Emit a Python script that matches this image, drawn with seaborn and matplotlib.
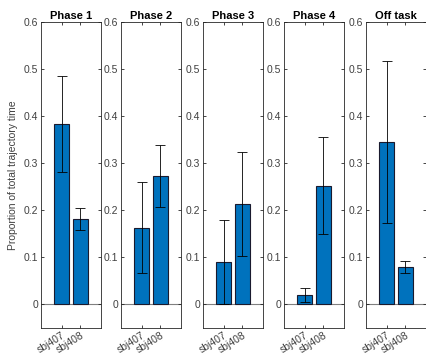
import matplotlib
matplotlib.use("Agg")
import matplotlib.pyplot as plt
import seaborn as sns
import pandas as pd

phases = ["Phase 1", "Phase 2", "Phase 3", "Phase 4", "Off task"]
subjects = ["sbj407", "sbj408"]
sbj407_vals = [0.383, 0.162, 0.089, 0.019, 0.345]
sbj408_vals = [0.181, 0.272, 0.213, 0.252, 0.079]
sbj407_err = [0.103, 0.097, 0.089, 0.015, 0.172]
sbj408_err = [0.023, 0.066, 0.110, 0.103, 0.012]
yticks = [0, 0.1, 0.2, 0.3, 0.4, 0.5, 0.6]

sns.set_style("white")
plt.rcParams['font.family'] = ['Liberation Sans', 'DejaVu Sans']

fig = plt.figure(figsize=(4.27, 3.59), dpi=100)
lefts = [41, 121, 203, 284, 366]
W, H = 427, 359
bar_color = "#0072BD"
spine_c = "#262626"
text_c = "#404040"

for i, ph in enumerate(phases):
    ax = fig.add_axes([lefts[i] / W, (H - 327.5) / H, 60 / W, (327.5 - 22) / H])
    df = pd.DataFrame({"subject": subjects,
                       "value": [sbj407_vals[i], sbj408_vals[i]],
                       "err": [sbj407_err[i], sbj408_err[i]]})
    sns.barplot(data=df, x="subject", y="value", ax=ax, color=bar_color,
                saturation=1, width=0.8, edgecolor="#1a1a2e", linewidth=0.8,
                errorbar=None)
    ax.errorbar(range(len(df)), df["value"], yerr=df["err"], fmt="none",
                ecolor="black", elinewidth=0.6, capsize=3.5, capthick=0.6)
    ax.axhline(0, color="#808080", lw=0.8, zorder=0.5)
    ax.set_xlim(-1.12, 2.12)
    ax.set_ylim(-0.05, 0.6)
    ax.set_yticks(yticks)
    ax.set_yticklabels([f"{t:g}" for t in yticks])
    ax.set_xlabel("")
    ax.set_ylabel("")
    ax.set_title(ph, fontsize=8, fontweight="bold", pad=2, color="black")
    for s in ax.spines.values():
        s.set_color(spine_c)
        s.set_linewidth(0.6)
        s.set_visible(True)
    ax.tick_params(axis="both", direction="in", length=2.5, width=0.6,
                   colors=spine_c, labelcolor=text_c, labelsize=7.5,
                   top=True, right=True, left=True, bottom=True, pad=2)
    ax.set_xticks(range(len(subjects)))
    ax.set_xticklabels(subjects, rotation=32, ha="right", rotation_mode="anchor")
    if i == 0:
        ax.set_ylabel("Proportion of total trajectory time", fontsize=7.5,
                      color=text_c, labelpad=4)

fig.savefig("out.png", dpi=100)
